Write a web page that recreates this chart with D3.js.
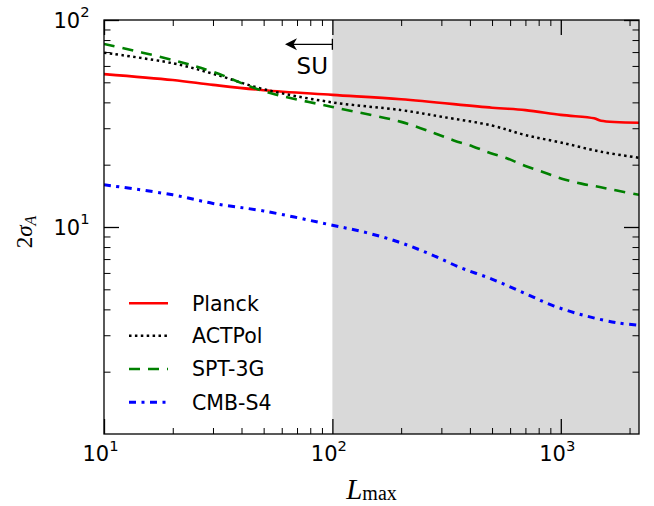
<!DOCTYPE html>
<html><head><meta charset="utf-8">
<script src="https://cdn.jsdelivr.net/npm/d3@7"></script>
<style>body{margin:0;background:#fff}</style>
</head><body><svg id="c" width="654" height="506"></svg>
<script>
// ---- data ----
const planckL = [10, 20, 30, 50, 100, 200, 500, 700, 1000, 1400, 1500, 2200];
const planckV = [54.8, 51.3, 48.6, 45.8, 43.5, 41.4, 37.7, 36.7, 34.8, 33.5, 32.6, 31.9];
const actL = [10, 20, 30, 50, 100, 200, 300, 500, 700, 1000, 1500, 2200];
const actV = [69.5, 61.8, 55.0, 46.3, 40.0, 36.7, 34.1, 30.9, 27.8, 25.6, 23.1, 21.6];
const sptL = [10, 20, 30, 50, 100, 200, 280, 340, 412, 490, 580, 700, 840, 1010, 1230, 1480, 1760, 2200];
const sptV = [76.6, 64.1, 56.2, 45.3, 38.0, 32.2, 28.4, 26.2, 24.5, 22.8, 21.5, 19.7, 18.4, 17.1, 16.2, 15.6, 15.0, 14.3];
const s4L = [10, 20, 30, 50, 100, 141, 195, 267, 364, 502, 684, 935, 1288, 1783, 2200];
const s4V = [16.0, 14.3, 13.0, 11.95, 10.2, 9.39, 8.46, 7.41, 6.36, 5.59, 4.82, 4.15, 3.72, 3.44, 3.35];
const seriesNames = ["Planck", "ACTPol", "SPT-3G", "CMB-S4"];
const xMajor = [10, 100, 1000];
const xMajorExp = ["1", "2", "3"];
const xMinor = [20,30,40,50,60,70,80,90,200,300,400,500,600,700,800,900,2000];
const yMajor = [10, 100];
const yMajorExp = ["1", "2"];
const yMinor = [2,3,4,5,6,7,8,9,20,30,40,50,60,70,80,90];
const xDomain = [10, 2200];
const yDomain = [1, 100];
const shadeFrom = 100;

// ---- layout ----
const L = 104, R = 639, T = 20, B = 434;
const svg = d3.select("#c");
const x = d3.scaleLog().domain(xDomain).range([L, R]);
const y = d3.scaleLog().domain(yDomain).range([B, T]);

svg.append("defs").append("clipPath").attr("id", "clip")
  .append("rect").attr("x", L).attr("y", T).attr("width", R - L).attr("height", B - T);

// shaded region
svg.append("rect").attr("x", x(shadeFrom)).attr("y", T)
  .attr("width", x(xDomain[1]) - x(shadeFrom)).attr("height", B - T)
  .attr("fill", "#d9d9d9");

const styles = [
  {L: planckL, V: planckV, color: "#ff0000", w: 2.6, dash: null},
  {L: actL, V: actV, color: "#000000", w: 2.5, dash: "2.5,3.4"},
  {L: sptL, V: sptV, color: "#008000", w: 2.6, dash: "11,8"},
  {L: s4L, V: s4V, color: "#0000ff", w: 3, dash: "7,5.5,3,5.5"}
];
const line = d3.line().x(d => x(d[0])).y(d => y(d[1])).curve(d3.curveCatmullRom.alpha(0.5));
const g = svg.append("g").attr("clip-path", "url(#clip)");
styles.forEach(s => {
  g.append("path").datum(s.L.map((l, i) => [l, s.V[i]]))
    .attr("d", line).attr("fill", "none").attr("stroke", s.color)
    .attr("stroke-width", s.w).attr("stroke-dasharray", s.dash);
});

// axes ticks (inward, all four sides)
function ticks(axisGen, transform, values, size, w) {
  const a = svg.append("g").attr("transform", transform)
    .call(axisGen.tickValues(values).tickSize(-size).tickFormat(""));
  a.select(".domain").remove();
  a.selectAll("line").attr("stroke", "#000").attr("stroke-width", w);
}
ticks(d3.axisBottom(x), `translate(0,${B})`, xMajor, 15, 1.3);
ticks(d3.axisBottom(x), `translate(0,${B})`, xMinor, 6, 1);
ticks(d3.axisTop(x), `translate(0,${T})`, xMajor, 15, 1.3);
ticks(d3.axisTop(x), `translate(0,${T})`, xMinor, 6, 1);
ticks(d3.axisLeft(y), `translate(${L},0)`, yMajor, 15, 1.3);
ticks(d3.axisLeft(y), `translate(${L},0)`, yMinor, 6.5, 1);
ticks(d3.axisRight(y), `translate(${R},0)`, yMajor, 15, 1.3);
ticks(d3.axisRight(y), `translate(${R},0)`, yMinor, 6.5, 1);

// frame
svg.append("rect").attr("x", L).attr("y", T).attr("width", R - L).attr("height", B - T)
  .attr("fill", "none").attr("stroke", "#000").attr("stroke-width", 1.3);

// tick labels
const tf = "DejaVu Sans";
xMajor.forEach((v, i) => {
  const t = svg.append("text").attr("x", x(v) - 3.5).attr("y", 461)
    .attr("text-anchor", "middle").attr("font-family", tf).attr("font-size", 21);
  t.append("tspan").text("10");
  t.append("tspan").attr("font-size", 14.7).attr("dy", -10.3).text(xMajorExp[i]);
});
yMajor.forEach((v, i) => {
  const t = svg.append("text").attr("x", 89.5).attr("y", y(v) + 7.5)
    .attr("text-anchor", "end").attr("font-family", tf).attr("font-size", 21);
  t.append("tspan").text("10");
  t.append("tspan").attr("font-size", 14.7).attr("dy", -10.3).text(yMajorExp[i]);
});

// axis labels
const mf = "Liberation Serif";
const xl = svg.append("text").attr("x", (L + R) / 2).attr("y", 498.5)
  .attr("text-anchor", "middle").attr("font-family", mf);
xl.append("tspan").attr("font-size", 29).attr("font-style", "italic").text("L");
xl.append("tspan").attr("font-size", 20).attr("dy", 1.5).text("max");

const yl = svg.append("text").attr("transform", "translate(32,232) rotate(-90)")
  .attr("text-anchor", "middle").attr("font-family", mf);
yl.append("tspan").attr("font-size", 23).text("2");
yl.append("tspan").attr("font-size", 23).attr("font-style", "italic").text("σ");
yl.append("tspan").attr("font-size", 16).attr("font-style", "italic").attr("dy", 4).text("A");

// SU arrow
const ay = 44.3, ax1 = x(shadeFrom);
svg.append("line").attr("x1", ax1).attr("x2", 293).attr("y1", ay).attr("y2", ay)
  .attr("stroke", "#000").attr("stroke-width", 1.3);
svg.append("line").attr("x1", ax1).attr("x2", ax1).attr("y1", ay - 5.5).attr("y2", ay + 5.5)
  .attr("stroke", "#000").attr("stroke-width", 1.3);
svg.append("path")
  .attr("d", `M285,${ay} L297,${ay - 6} L293.5,${ay} L297,${ay + 6} Z`)
  .attr("fill", "#000");
svg.append("text").attr("x", 328).attr("y", 73.5).attr("text-anchor", "end")
  .attr("font-family", tf).attr("font-size", 23).text("SU");

// legend
const rows = [303.3, 335.7, 369, 402.3];
styles.forEach((s, i) => {
  svg.append("line").attr("x1", 129).attr("x2", 168).attr("y1", rows[i]).attr("y2", rows[i])
    .attr("stroke", s.color).attr("stroke-width", s.w).attr("stroke-dasharray", s.dash);
  svg.append("text").attr("x", 192).attr("y", rows[i] + 7.4)
    .attr("font-family", tf).attr("font-size", 20.5).text(seriesNames[i]);
});
</script></body></html>
